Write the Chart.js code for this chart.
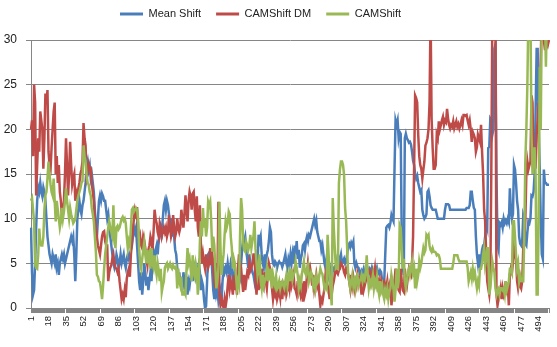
<!DOCTYPE html>
<html>
<head>
<meta charset="utf-8">
<script src="https://cdn.jsdelivr.net/npm/chart.js@4.4.0/dist/chart.umd.min.js"></script>
<style>
  html, body { margin: 0; padding: 0; background: #fff; }
  #wrap { width: 557px; height: 347px; }
</style>
</head>
<body>
<div id="wrap"><canvas id="chart" width="557" height="347"></canvas></div>
<script>
// values, one per frame (504 frames)
const meanShift = [
  9, 4, 1.5, 2, 5, 9, 12, 13.5, 13, 14,
  13, 12.5, 13.5, 13, 12, 10, 8, 7, 6, 5.5,
  5, 6, 5.5, 5, 6, 4.5, 5, 3.7, 5, 5.5,
  6, 5.5, 6, 5, 5.5, 6, 6.5, 7, 7.5, 8,
  7.5, 8, 6, 3, 6, 10, 11, 12, 11, 10.5,
  11.5, 12, 13, 14, 16, 16.5, 15.5, 16, 14.5, 15,
  14, 13, 11, 9, 8, 10, 12, 12.6, 12, 12.8,
  12.5, 12, 12, 11, 10, 10.5, 9, 8, 7, 6,
  5, 4.5, 5, 6, 5.5, 4.5, 5, 6, 5, 5.5,
  6, 5, 4.5, 5.5, 6, 5.5, 6, 6.5, 7, 8,
  9, 8.5, 9, 7, 5, 3, 2, 4, 1.5, 3,
  5, 4, 2.5, 3.5, 2, 3, 4, 3, 5, 6,
  5, 6.5, 7, 6, 7.5, 8, 9, 8.5, 10, 11.5,
  12, 11, 12, 11.5, 10.5, 9, 10, 8, 9, 8,
  6.5, 6, 4.5, 3, 4, 2.5, 3.5, 2, 4, 3,
  2, 3.5, 1.5, 3, 2.5, 3.5, 4, 3, 5, 4.5,
  3.5, 4, 4.5, 5, 4, 2, 3, 2.5, 1, 0,
  0.2, 3, 6, 6.2, 5.8, 6, 4, 2, 1, 3,
  1.5, 2, 0.8, 1.5, 2, 0.7, 3, 4.5, 4, 4.5,
  4, 5, 4, 3.7, 5, 4.5, 3, 2.2, 4.5, 3,
  2.5, 3.7, 4, 3.5, 5, 6.5, 7.8, 7.5, 8, 6.5,
  5.5, 4.5, 6, 5, 4.5, 4, 3.7, 3, 4, 3.5,
  5, 8.2, 7.5, 8, 6, 5, 4.5, 6, 5, 6,
  6.5, 7.5, 9, 8.5, 6, 5, 4.8, 5.2, 5, 4.5,
  5, 5.2, 5, 5, 4.6, 5, 5.5, 6, 5, 4.5,
  5.5, 5, 6, 5, 6, 5, 7, 6, 7.5, 5.5,
  6.5, 4.5, 5.5, 6, 7, 7.2, 6.5, 7.5, 8, 7.5,
  8.2, 8, 8.5, 9, 9.5, 10, 9.3, 9.8, 8.5, 8,
  7.5, 7.5, 6.5, 7, 6, 5, 4.5, 5.5, 4.5, 3.5,
  3, 4, 3, 4.5, 4.3, 4.6, 4.5, 5, 6, 4.5,
  5.5, 6, 5, 5.2, 5.5, 5, 5.2, 6, 7, 7.2,
  6.8, 7.3, 7, 7.4, 5, 4.5, 5, 4.6, 4.5, 4,
  3.7, 4.2, 4, 4.4, 3.8, 4, 4.5, 4, 3.8, 4.3,
  4, 4.5, 4, 3.7, 4.2, 4, 4.5, 4, 3.8, 4.2,
  4, 3, 2.2, 3, 6, 9, 9.2, 9.3, 9, 9.5,
  10.4, 10, 9.7, 15.6, 21, 20.5, 21, 19, 19.7, 19.5,
  8, 4.5, 3.7, 19, 19.5, 19, 18.8, 18.5, 18.6, 18.3,
  17.5, 16.5, 16, 15, 14.5, 14.8, 14, 13.5, 13, 13.2,
  11, 10.4, 10, 10.2, 10.5, 13, 13.2, 12.5, 11.5, 11.2,
  11, 11, 11, 11, 10.5, 10, 10, 10, 10, 10,
  10, 10, 11, 11.6, 11.6, 11.6, 11.5, 11, 11, 11,
  11, 11, 11, 11, 11, 11, 11, 11, 11, 11,
  11, 11, 11, 11.2, 11.2, 11.2, 11.5, 13, 13, 12,
  11.2, 11, 8, 6, 5, 6, 4.5, 5.5, 6.5, 7,
  7, 8, 9.5, 9, 17.9, 18, 21.2, 21, 19.4, 20,
  29, 29.5, 15, 7, 6.5, 9.5, 9.3, 9.6, 9, 10,
  9.5, 9.8, 9.5, 10, 9.6, 13.4, 11, 10, 10.5, 16,
  15.5, 14, 12, 11, 8, 7.2, 7, 7.5, 10.4, 10,
  7.2, 7, 8.5, 9.7, 9.5, 10, 12.6, 12.5, 13, 15,
  22, 29, 29, 20, 15.6, 10, 6, 5.5, 15.5, 14,
  14, 13.8, 13.8, 13.8
];

const camShiftDM = [
  20, 21, 17, 25, 23, 12.6, 16, 19, 17.5, 22,
  21, 20, 15.6, 19, 24, 23, 24.4, 17.5, 16, 15.6,
  18, 20, 22, 23, 15, 17, 14, 16, 13, 12,
  10.4, 11, 12, 15, 19, 16, 12.6, 15, 18.6, 16,
  13.8, 14.5, 15, 12, 13, 12.6, 13.4, 14, 15, 15.5,
  16.4, 20.7, 19, 18.2, 14.5, 15, 16, 15.5, 15.6, 14,
  13, 12, 10, 9, 8, 7, 6.5, 6, 7, 8,
  8.5, 8.6, 7.5, 7, 7, 3, 4, 4.5, 4.8, 5.5,
  6, 5, 4.5, 4.4, 4, 4.4, 3, 2, 1, 1.5,
  1, 2, 1.2, 3.3, 4, 4.4, 3.5, 6, 7.4, 9,
  10, 11, 10.5, 11.3, 9, 7.4, 8, 7, 6.7, 8,
  7.5, 6.7, 5.5, 4.8, 6.5, 7, 8, 7.5, 6.5, 8.5,
  11, 10, 9.5, 8.5, 8, 9.5, 9, 8, 8.5, 9,
  8.5, 9, 8, 8.5, 10.4, 9, 8, 8.5, 10.4, 9,
  8, 8.5, 10, 9, 8.5, 9, 11, 10, 9, 10.5,
  12.6, 11, 9.7, 12, 13, 12.5, 11, 12.8, 13, 11,
  9.7, 12.5, 9, 8, 11.5, 7, 5, 6, 5, 4.4,
  6, 5, 4.5, 5, 6.7, 4.8, 6, 5, 3, 2.2,
  5, 3, 11.9, 1.5, 0.3, 1, 0.5, 0, 1, 0.2,
  1, 2.5, 3.7, 2.2, 3, 2.5, 1.5, 3.7, 2, 3,
  1.5, 4.4, 6, 5, 4.5, 3, 1.8, 3.7, 2, 3,
  4, 3.7, 5, 4.2, 4.5, 5, 6, 6, 3, 1.5,
  3.7, 2, 3, 2.2, 4.4, 3, 2.5, 4, 3, 2.2,
  3.7, 5, 4.5, 4, 2.2, 1, 2, 1.5, 2.2, 1,
  1.5, 2, 1.2, 3, 1, 2.5, 2, 3, 1.5, 2,
  3, 2.2, 3.7, 2.5, 3, 3.7, 2.2, 2, 1.5, 3,
  2, 2.8, 1.5, 2, 0.7, 3, 1.5, 2, 3.7, 5,
  4, 4.5, 3.7, 2.5, 3.7, 2.2, 3, 3.7, 2.5, 3,
  1.5, 0.3, 1, 0.7, 1.5, 2.2, 3.7, 3, 2.5, 2,
  1, 3, 1.5, 2.5, 3, 3.7, 4.4, 4, 3.8, 4.2,
  4.4, 5, 4.8, 4.6, 4, 3.7, 4.4, 4, 3.8, 3,
  2.2, 3.7, 2.5, 3.3, 2.2, 3, 2.5, 3.7, 3, 3.3,
  2.5, 1.5, 3, 2, 2.5, 3, 3.7, 4.4, 4, 4.2,
  3.8, 3, 4, 3.5, 4.4, 3, 3.5, 2.5, 3, 2.2,
  3, 2.2, 2.8, 3, 2.5, 2.2, 3, 1.8, 2.5, 3,
  0.3, 1.5, 2.2, 3, 4.4, 3, 3, 2, 1.8, 4.4,
  3, 2, 1.8, 4.4, 3, 2.5, 3.5, 4.4, 4, 3.7,
  5, 8, 15.6, 23.8, 23.5, 23, 19.4, 17, 16, 15.6,
  14.5, 15.5, 16.4, 18.2, 18.5, 19, 20, 23, 33, 21.2,
  18, 15.6, 15.6, 16, 19.4, 19, 20.9, 20, 20.5, 21,
  21.4, 20.5, 21, 20.8, 22.3, 21.2, 20.5, 20.1, 20.5, 20.3,
  20.9, 20.1, 20.5, 20.9, 20.3, 20.6, 20.1, 20.5, 21, 20.5,
  21.6, 21.6, 21.5, 21.6, 21, 20.5, 21, 20, 18.6, 19.7,
  19.4, 19, 17.5, 18, 19.4, 19, 18.6, 20.5, 17.5, 15,
  11, 9.7, 6, 3, 2.2, 1.5, 3, 15.6, 33, 33,
  33, 33, 1.5, 0.3, 1, 1.5, 2.2, 1, 2.2, 1.5,
  2, 3, 1.5, 2.5, 0.3, 3.7, 4.4, 4, 5, 6.7,
  6, 5.5, 3, 2.2, 3, 2.5, 2.2, 3, 6.7, 8,
  9.7, 15, 16.4, 15.5, 16, 16.4, 23.8, 23, 15.6, 17,
  15.6, 19.4, 21, 23, 22, 28, 33, 33, 30, 29,
  29, 30, 29.5, 30
];

const camShift = [
  12, 12.3, 11, 9.7, 4.8, 4.5, 4.4, 6, 8.9, 7.4,
  7, 7, 8, 11, 12.6, 13, 14.5, 16.4, 15, 13.8,
  13, 12.6, 14.5, 12, 9.7, 12, 11, 10, 9, 9.7,
  11.2, 10, 10.8, 12, 13.4, 12, 11, 10, 11.2, 10.5,
  10, 9.5, 9.7, 10, 11, 12, 12.6, 13, 13.4, 14,
  14.2, 18.2, 17, 16.4, 14.9, 14, 13.8, 13, 12.6, 11.2,
  10.5, 9.7, 8, 6.3, 3.7, 3.5, 3, 2.9, 2, 1,
  2.5, 4.4, 6, 7, 8, 9, 9.7, 9, 8.5, 8,
  11.5, 8, 6.7, 9, 9.2, 8.8, 9, 9.5, 10, 10.2,
  9.8, 10, 9.5, 8, 6.7, 7.5, 7, 9, 11, 11.2,
  10.8, 11, 11.2, 11, 10, 6.7, 5, 4.4, 5.5, 6.5,
  7.4, 6, 5, 6.5, 5.5, 6, 4.4, 6.7, 5, 4.5,
  5.9, 4.5, 3.7, 5, 4.2, 3, 4.4, 1.8, 2.5, 3,
  4.5, 4.8, 5, 4.4, 4.7, 5, 4.6, 4.4, 4.8, 4.5,
  4.4, 4.6, 2.2, 4.4, 3, 2.5, 3.5, 1.5, 1.5, 1.8,
  1.5, 4.4, 6.7, 5, 5.5, 4.4, 3, 5.9, 4, 3.5,
  5, 4.4, 1.5, 3, 7.4, 9.7, 8, 11.2, 9, 10,
  8, 9, 11.9, 11.5, 11.9, 9.7, 6.3, 8, 7, 4.4,
  2.2, 3, 4.4, 11.9, 6.7, 3.7, 5, 6, 8.2, 9.7,
  9, 9.5, 10.8, 10.5, 8, 6.7, 4.4, 5.5, 5, 3.7,
  2.2, 3, 2.5, 8.2, 12.3, 11, 7.4, 6.5, 6.3, 7.4,
  7, 6.5, 7, 8.2, 6.7, 7.5, 8, 9.7, 6.7, 5,
  3.7, 4.5, 6, 3, 2.2, 3.7, 2.5, 3, 3.5, 4.4,
  3, 4, 3.5, 4.4, 2.2, 3.7, 3, 2.5, 3.5, 2.2,
  2.5, 3, 2.2, 2.8, 3, 2.5, 2.2, 3, 3.7, 2.5,
  3.5, 4, 3, 4.4, 3.2, 3.8, 4, 5.2, 4.5, 3.7,
  2.2, 3, 2.5, 3.7, 4.5, 5.2, 4, 3.7, 4.4, 4.8,
  3, 3.5, 4, 3.7, 2.5, 3, 2.2, 3.5, 2.8, 3,
  3.7, 4.4, 4, 3.8, 3, 2.2, 2.5, 2.2, 8.2, 6,
  3, 2, 0.3, 12.3, 9, 6.7, 4.4, 4.5, 4.4, 14,
  15.5, 16.4, 16.4, 16, 14.9, 11.2, 9.7, 6.7, 3.7, 3,
  2.2, 3, 3.7, 2.5, 3, 2.2, 3.5, 3.7, 2.5, 3,
  3.2, 3.7, 3, 3.5, 3.2, 4, 5.9, 3.7, 2.2, 3,
  2.5, 3, 3.7, 2.2, 3, 2.5, 3.5, 2.2, 1.5, 3,
  2, 2.5, 1.5, 1, 2, 1.5, 2.2, 1, 1.8, 2.2,
  3.7, 3, 2.2, 0.7, 2, 4.4, 2.2, 3, 9.3, 9,
  6.7, 4.4, 5.5, 3, 2.2, 3, 4, 4.4, 3.7, 4.4,
  5.2, 4, 4.5, 2.2, 4.4, 3, 3.7, 5.2, 4.5, 5,
  5.9, 6.7, 6.2, 6.5, 8.2, 8, 8.2, 7, 6.5, 6.3,
  6.7, 6.3, 6.3, 6.2, 5.9, 6, 5.9, 5.5, 4.4, 4.4,
  4.4, 4.4, 4.4, 4.4, 4.4, 4.4, 4.4, 4.4, 4.4, 4.4,
  5, 5.9, 5.9, 5.9, 5.9, 5.5, 5.2, 5.2, 5.2, 5.2,
  5.2, 5.2, 5.2, 5.2, 4.5, 3, 3.5, 4, 3.3, 4.4,
  3.5, 4, 3, 2.2, 3, 2.5, 4.4, 4.4, 5, 6,
  6.7, 4.8, 5.5, 6.7, 6.7, 1.5, 2.2, 3.7, 5.2, 4.5,
  4, 2.2, 1.5, 2, 2.2, 1.5, 2.2, 2.2, 2, 2.2,
  1.5, 3, 2, 2.5, 3, 4.4, 4.4, 4, 9.7, 9.7,
  8, 5.9, 4.4, 5, 3, 3.7, 3.2, 3, 3, 8,
  16.4, 20, 25, 33, 33, 33, 19.4, 15, 17, 18,
  15, 1.5, 1.5, 10, 27, 20, 33, 33, 33, 33,
  27, 33, 33, 30
];

const seriesNames = ['Mean Shift', 'CAMShift DM', 'CAMShift'];
const seriesColors = ['#4a7ebb', '#be4b48', '#98b954'];
const yMin = 0, yMax = 30, yStep = 5;
const labelStep = 17;   // every 17th frame number is printed on the axis
const categories = meanShift.map((_, i) => String(i + 1));

const axisGrey = '#868686';
const fontFamily = '"Liberation Sans", Arial, sans-serif';

Chart.defaults.font.family = fontFamily;
Chart.defaults.color = '#222';

// the legend sits in a 40px band above the plot, items start at x=120
const legendBand = 40;
const legendTop = -6.5;
const legendLeft = 105;

const legendPlacement = {
    id: 'legendPlacement',
    beforeLayout(chart) {
        const lg = chart.legend;
        if (lg && !lg._bandFit) {
            const fit = lg.fit;
            lg.fit = function () {
                fit.call(this);
                this.height = legendBand;
            };
            lg._bandFit = true;
        }
    },
    afterLayout(chart) {
        const lg = chart.legend;
        if (!lg) return;
        const w = lg.width;
        lg.top = legendTop;
        lg.left = legendLeft;
        lg.right = legendLeft + w;
    }
};

const allSeries = [meanShift, camShiftDM, camShift];

const chart = new Chart(document.getElementById('chart').getContext('2d'), {
    type: 'line',
    data: {
        labels: categories,
        datasets: allSeries.map((values, k) => ({
            label: seriesNames[k],
            data: values,
            borderColor: seriesColors[k],
            backgroundColor: seriesColors[k],
            borderWidth: 2.5,
            pointRadius: 0,
            fill: false,
            tension: 0,
            // later series sit on top, like the original
            order: allSeries.length - k
        }))
    },
    options: {
        responsive: false,
        animation: false,
        events: [],
        layout: { padding: { top: 0, right: 8, left: 0, bottom: 0 } },
        plugins: {
            tooltip: { enabled: false },
            legend: {
                position: 'top',
                align: 'start',
                labels: {
                    boxWidth: 23,
                    boxHeight: 3,
                    padding: 15,
                    font: { size: 11 },
                    sort: (a, b) => a.datasetIndex - b.datasetIndex,
                    generateLabels: (c) => Chart.defaults.plugins.legend.labels.generateLabels(c)
                        .map(item => Object.assign(item, { lineWidth: 0 }))
                }
            }
        },
        scales: {
            x: {
                type: 'category',
                offset: false,
                grid: {
                    drawOnChartArea: false,
                    drawTicks: true,
                    tickLength: 5,
                    color: axisGrey
                },
                border: { color: axisGrey },
                ticks: {
                    autoSkip: false,
                    minRotation: 90,
                    maxRotation: 90,
                    padding: 3,
                    font: { size: 9.5 },
                    callback: (val, i) => (i % labelStep === 0 ? categories[i] : '')
                },
                afterFit: (s) => {
                    s.height = 39;
                    s.paddingLeft = 0;
                    s.paddingRight = 0;
                }
            },
            y: {
                min: yMin,
                max: yMax,
                ticks: { stepSize: yStep, padding: 9, font: { size: 12 } },
                grid: { color: axisGrey, tickLength: 5 },
                border: { color: axisGrey },
                afterFit: (s) => { s.width = 31; }
            }
        }
    },
    plugins: [legendPlacement]
});
</script>
</body>
</html>
